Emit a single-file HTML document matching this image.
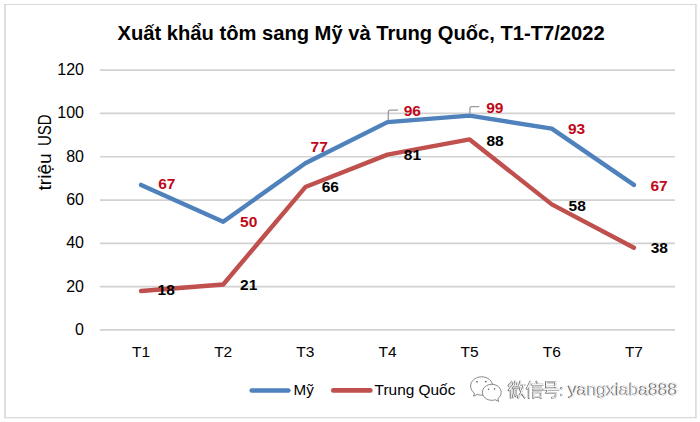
<!DOCTYPE html><html><head><meta charset="utf-8"><style>html,body{margin:0;padding:0;background:#fff;}svg{display:block;}text{font-family:"Liberation Sans",sans-serif;}</style></head><body>
<svg width="700" height="422" viewBox="0 0 700 422">
<rect x="0" y="0" width="700" height="422" fill="#fff"/>
<g stroke="#d9d9d9" fill="none"><line x1="4.2" y1="4.5" x2="696.6" y2="4.5" stroke-width="1.1"/><line x1="5" y1="4" x2="5" y2="418.3" stroke-width="1.7"/><line x1="695.9" y1="4" x2="695.9" y2="418.3" stroke-width="1.5"/><line x1="4.2" y1="417.6" x2="696.6" y2="417.6" stroke-width="1.4"/></g>
<line x1="100" y1="329.95" x2="675" y2="329.95" stroke="#d2d2d2" stroke-width="1.7"/>
<line x1="100" y1="286.65" x2="675" y2="286.65" stroke="#d2d2d2" stroke-width="1.7"/>
<line x1="100" y1="243.35" x2="675" y2="243.35" stroke="#d2d2d2" stroke-width="1.7"/>
<line x1="100" y1="200.05" x2="675" y2="200.05" stroke="#d2d2d2" stroke-width="1.7"/>
<line x1="100" y1="156.75" x2="675" y2="156.75" stroke="#d2d2d2" stroke-width="1.7"/>
<line x1="100" y1="113.45" x2="675" y2="113.45" stroke="#d2d2d2" stroke-width="1.7"/>
<line x1="100" y1="70.15" x2="675" y2="70.15" stroke="#d2d2d2" stroke-width="1.7"/>
<text x="84" y="334.95" font-size="16" text-anchor="end" fill="#000">0</text>
<text x="84" y="291.65" font-size="16" text-anchor="end" fill="#000">20</text>
<text x="84" y="248.35" font-size="16" text-anchor="end" fill="#000">40</text>
<text x="84" y="205.05" font-size="16" text-anchor="end" fill="#000">60</text>
<text x="84" y="161.75" font-size="16" text-anchor="end" fill="#000">80</text>
<text x="84" y="118.45" font-size="16" text-anchor="end" fill="#000">100</text>
<text x="84" y="75.15" font-size="16" text-anchor="end" fill="#000">120</text>
<text x="141.07" y="356.7" font-size="15.5" text-anchor="middle" fill="#000">T1</text>
<text x="223.21" y="356.7" font-size="15.5" text-anchor="middle" fill="#000">T2</text>
<text x="305.36" y="356.7" font-size="15.5" text-anchor="middle" fill="#000">T3</text>
<text x="387.50" y="356.7" font-size="15.5" text-anchor="middle" fill="#000">T4</text>
<text x="469.64" y="356.7" font-size="15.5" text-anchor="middle" fill="#000">T5</text>
<text x="551.79" y="356.7" font-size="15.5" text-anchor="middle" fill="#000">T6</text>
<text x="633.93" y="356.7" font-size="15.5" text-anchor="middle" fill="#000">T7</text>
<g transform="translate(51.2,190.6) rotate(-90)"><text x="0" y="0" font-size="18" fill="#000" textLength="37.4" lengthAdjust="spacingAndGlyphs">triệu</text><text x="44.6" y="0" font-size="18" fill="#000" textLength="31.6" lengthAdjust="spacingAndGlyphs">USD</text></g>
<text x="117.6" y="39.8" font-size="20" font-weight="bold" fill="#000" textLength="487" lengthAdjust="spacingAndGlyphs">Xuất khẩu tôm sang Mỹ và Trung Quốc, T1-T7/2022</text>
<polyline points="141.07,184.89 223.21,221.70 305.36,163.24 387.50,122.11 469.64,115.61 551.79,128.60 633.93,184.89" fill="none" stroke="#4f81bd" stroke-width="4.4" stroke-linejoin="round" stroke-linecap="round"/>
<polyline points="141.07,290.98 223.21,284.49 305.36,187.06 387.50,154.58 469.64,139.43 551.79,204.38 633.93,247.68" fill="none" stroke="#c0504d" stroke-width="4.4" stroke-linejoin="round" stroke-linecap="round"/>
<path d="M388.3,120 L388.3,112.2 Q388.3,110.2 390.3,110.2 L398,110.2" fill="none" stroke="#9a9a9a" stroke-width="1.3"/>
<path d="M469.9,113 L469.9,108.6 Q469.9,106.6 471.9,106.6 L479.3,106.6" fill="none" stroke="#9a9a9a" stroke-width="1.3"/>
<text x="158.13" y="189.40" font-size="15.5" font-weight="bold" fill="#c0081a">67</text>
<text x="240.02" y="227.00" font-size="15.5" font-weight="bold" fill="#c0081a">50</text>
<text x="310.53" y="152.00" font-size="15.5" font-weight="bold" fill="#c0081a">77</text>
<text x="403.76" y="115.80" font-size="15.5" font-weight="bold" fill="#c0081a">96</text>
<text x="486.26" y="112.60" font-size="15.5" font-weight="bold" fill="#c0081a">99</text>
<text x="567.96" y="134.40" font-size="15.5" font-weight="bold" fill="#c0081a">93</text>
<text x="650.43" y="190.90" font-size="15.5" font-weight="bold" fill="#c0081a">67</text>
<text x="157.62" y="295.20" font-size="15.5" font-weight="bold" fill="#000">18</text>
<text x="240.06" y="290.00" font-size="15.5" font-weight="bold" fill="#000">21</text>
<text x="321.73" y="191.90" font-size="15.5" font-weight="bold" fill="#000">66</text>
<text x="403.81" y="159.70" font-size="15.5" font-weight="bold" fill="#000">81</text>
<text x="486.51" y="145.50" font-size="15.5" font-weight="bold" fill="#000">88</text>
<text x="568.52" y="210.50" font-size="15.5" font-weight="bold" fill="#000">58</text>
<text x="650.64" y="252.90" font-size="15.5" font-weight="bold" fill="#000">38</text>
<line x1="251.8" y1="390.5" x2="288.3" y2="390.5" stroke="#4f81bd" stroke-width="4.7" stroke-linecap="round"/>
<line x1="333.3" y1="390.4" x2="370.3" y2="390.4" stroke="#c0504d" stroke-width="4.7" stroke-linecap="round"/>
<text x="293.5" y="394.9" font-size="15.2" fill="#000">Mỹ</text>
<text x="374.6" y="395" font-size="15.2" fill="#000" textLength="80.8" lengthAdjust="spacingAndGlyphs">Trung Quốc</text>
<g fill="none" stroke-linecap="square" stroke-linejoin="miter">
<g stroke="#666" stroke-width="1.9" transform="translate(-0.5,0.2)"><path transform="translate(508.6,381.2) scale(1.0)" d="M3.6,0.6 L0.6,4.2 M4,4.6 L0.6,8.8 M2.6,6.6 L2.6,16.2 M7.1,0.4 L7.1,4.6 M5.1,2 L5.1,4.6 L9.1,4.6 L9.1,2 M4.6,6.6 L9.9,6.6 M5.6,8.6 L5.6,12.5 L4.6,15.8 M5.6,8.6 L8.9,8.6 L8.9,13.5 L9.9,14.5 M7.3,10.5 L7.3,14.8 M12.2,0.4 L10.6,5.2 M11.2,3.6 L16.2,3.6 M15.2,3.6 Q14,11 10,16.2 M11.6,7 Q13,12.5 16.3,16"/><path transform="translate(526.6,381.2) scale(1.0)" d="M4.2,0.4 L0.6,7.2 M2.6,4.6 L2.6,16.3 M10.4,0.4 L11.6,2 M5.6,3.2 L16.2,3.2 M7.2,6 L14.6,6 M7.2,8.6 L14.6,8.6 M7.2,11 L7.2,16.3 M7.2,11 L14.6,11 L14.6,16.3 M7.2,15.6 L14.6,15.6"/><path transform="translate(543.1,381.2) scale(1.0)" d="M3.4,0.8 L3.4,5.6 M3.4,0.8 L12.6,0.8 L12.6,5.6 M3.4,5.2 L12.6,5.2 M0.6,8.2 L15.6,8.2 M4.8,8.2 L3.8,11.6 L13.2,11.6 Q13.2,15.2 12.4,15.8 L9.6,16.3"/></g>
<g stroke="#f4f4f4" stroke-width="1.2"><path transform="translate(508.6,381.2) scale(1.0)" d="M3.6,0.6 L0.6,4.2 M4,4.6 L0.6,8.8 M2.6,6.6 L2.6,16.2 M7.1,0.4 L7.1,4.6 M5.1,2 L5.1,4.6 L9.1,4.6 L9.1,2 M4.6,6.6 L9.9,6.6 M5.6,8.6 L5.6,12.5 L4.6,15.8 M5.6,8.6 L8.9,8.6 L8.9,13.5 L9.9,14.5 M7.3,10.5 L7.3,14.8 M12.2,0.4 L10.6,5.2 M11.2,3.6 L16.2,3.6 M15.2,3.6 Q14,11 10,16.2 M11.6,7 Q13,12.5 16.3,16"/><path transform="translate(526.6,381.2) scale(1.0)" d="M4.2,0.4 L0.6,7.2 M2.6,4.6 L2.6,16.3 M10.4,0.4 L11.6,2 M5.6,3.2 L16.2,3.2 M7.2,6 L14.6,6 M7.2,8.6 L14.6,8.6 M7.2,11 L7.2,16.3 M7.2,11 L14.6,11 L14.6,16.3 M7.2,15.6 L14.6,15.6"/><path transform="translate(543.1,381.2) scale(1.0)" d="M3.4,0.8 L3.4,5.6 M3.4,0.8 L12.6,0.8 L12.6,5.6 M3.4,5.2 L12.6,5.2 M0.6,8.2 L15.6,8.2 M4.8,8.2 L3.8,11.6 L13.2,11.6 Q13.2,15.2 12.4,15.8 L9.6,16.3"/></g>
</g>
<circle cx="561.3" cy="388.3" r="1.2" fill="#666"/><circle cx="561.6" cy="388.3" r="0.9" fill="#eee"/>
<circle cx="561.3" cy="395" r="1.2" fill="#666"/><circle cx="561.6" cy="395" r="0.9" fill="#eee"/>
<g fill="#fff" stroke="#444" stroke-width="0.9" stroke-opacity="0.7">
<path d="M481.6,376.8 C475.5,376.8 470.6,380.9 470.6,386 C470.6,389 472.1,391.5 474.4,393.1 L473.6,396.2 L477.3,394.4 C478.6,394.9 480.1,395.2 481.6,395.2 C487.7,395.2 492.6,391.1 492.6,386 C492.6,380.9 487.7,376.8 481.6,376.8 Z"/>
<path d="M491.8,384.3 C486.6,384.3 482.4,387.9 482.4,392.3 C482.4,396.7 486.6,400.3 491.8,400.3 C493,400.3 494.1,400.1 495.2,399.8 L498.6,401.4 L497.8,398.6 C499.9,397.1 501.2,394.8 501.2,392.3 C501.2,387.9 497,384.3 491.8,384.3 Z"/>
</g>
<g fill="#444" opacity="0.8"><circle cx="477" cy="381.8" r="0.9"/><circle cx="485.8" cy="381.6" r="0.9"/><circle cx="488.6" cy="389.2" r="0.8"/><circle cx="494.6" cy="388.9" r="0.8"/></g>
<text x="567.8" y="395.4" font-size="16.3" fill="#555" stroke="#555" stroke-width="0.35" textLength="109.6" lengthAdjust="spacingAndGlyphs">yangxiaba888</text>
<text x="568.7" y="395.1" font-size="16.3" fill="#ececec" textLength="109.6" lengthAdjust="spacingAndGlyphs">yangxiaba888</text>
</svg></body></html>
